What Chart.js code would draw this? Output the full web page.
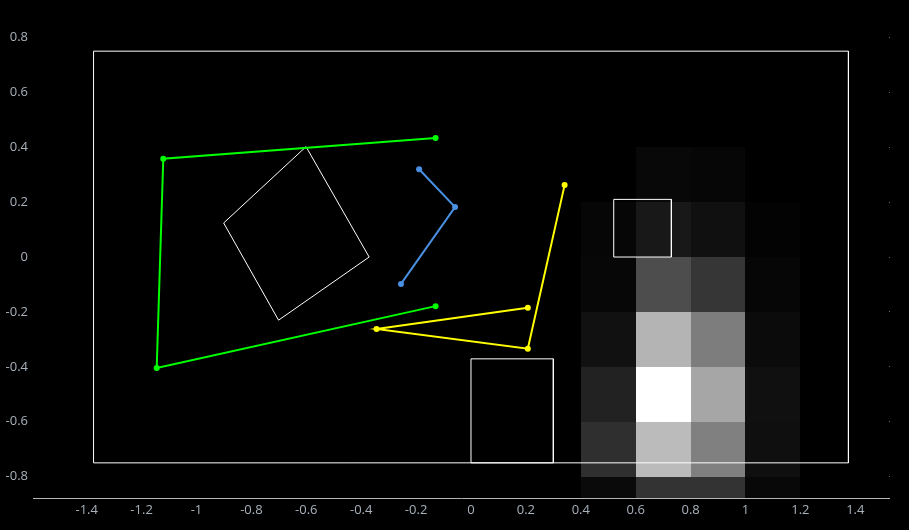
<!DOCTYPE html>
<html>
<head>
<meta charset="utf-8">
<script src="https://cdn.jsdelivr.net/npm/chart.js@4/dist/chart.umd.min.js"></script>
<style>
  html, body { margin: 0; padding: 0; background: #000; }
  #wrap { width: 909px; height: 530px; }
</style>
</head>
<body>
<div id="wrap"><canvas id="c" width="909" height="530"></canvas></div>
<script>
// ---- data ----
const xTicks = [-1.4, -1.2, -1, -0.8, -0.6, -0.4, -0.2, 0, 0.2, 0.4, 0.6, 0.8, 1, 1.2, 1.4];
const yTicks = [-0.8, -0.6, -0.4, -0.2, 0, 0.2, 0.4, 0.6, 0.8];

const greenLine = [
  {x: -0.129, y: 0.434}, {x: -1.121, y: 0.358}, {x: -1.145, y: -0.404}, {x: -0.129, y: -0.179}
];
const blueLine = [
  {x: -0.189, y: 0.320}, {x: -0.058, y: 0.182}, {x: -0.255, y: -0.098}
];
const yellowLine = [
  {x: 0.341, y: 0.262}, {x: 0.207, y: -0.334}, {x: -0.344, y: -0.262}, {x: 0.207, y: -0.185}
];
const tiltedSquare = [
  {x: -0.601, y: 0.402}, {x: -0.371, y: 0.0}, {x: -0.701, y: -0.230}, {x: -0.901, y: 0.124}, {x: -0.601, y: 0.402}
];
const outerRect = [
  {x: -1.375, y: 0.75}, {x: 1.375, y: 0.75}, {x: 1.375, y: -0.75}, {x: -1.375, y: -0.75}, {x: -1.375, y: 0.75}
];
const lowerRect = [
  {x: 0, y: -0.371}, {x: 0.3, y: -0.371}, {x: 0.3, y: -0.75}, {x: 0, y: -0.75}, {x: 0, y: -0.371}
];
const smallSquare = [
  {x: 0.52, y: 0.21}, {x: 0.73, y: 0.21}, {x: 0.73, y: 0.0}, {x: 0.52, y: 0.0}, {x: 0.52, y: 0.21}
];

// heatmap: column edges, row edges (top to bottom), intensities 0..1
const heatX = [0.4, 0.6, 0.8, 1.0, 1.2];
const heatY = [0.4, 0.2, 0, -0.2, -0.4, -0.6, -0.8, -1.0];
const heatValues = [
  [0.000, 0.030, 0.025, 0.000],
  [0.025, 0.095, 0.062, 0.012],
  [0.028, 0.300, 0.212, 0.024],
  [0.066, 0.706, 0.490, 0.044],
  [0.133, 1.000, 0.651, 0.063],
  [0.184, 0.733, 0.502, 0.059],
  [0.040, 0.200, 0.200, 0.031]
];

// ---- plugin: heatmap cells drawn through the chart scales ----
const heatmapPlugin = {
  id: 'heatmap',
  beforeDatasetsDraw(chart) {
    const {ctx, chartArea, scales} = chart;
    const xs = scales.x, ys = scales.y;
    ctx.save();
    ctx.beginPath();
    ctx.rect(chartArea.left, chartArea.top, chartArea.right - chartArea.left, chartArea.bottom - chartArea.top);
    ctx.clip();
    for (let r = 0; r < heatValues.length; r++) {
      for (let c = 0; c < heatValues[r].length; c++) {
        const v = heatValues[r][c];
        if (v <= 0) continue;
        const g = Math.round(v * 255);
        const x0 = xs.getPixelForValue(heatX[c]);
        const x1 = xs.getPixelForValue(heatX[c + 1]);
        const y0 = ys.getPixelForValue(heatY[r]);
        const y1 = ys.getPixelForValue(heatY[r + 1]);
        ctx.fillStyle = `rgb(${g},${g},${g})`;
        ctx.fillRect(Math.round(x0), Math.round(y0), Math.round(x1) - Math.round(x0), Math.round(y1) - Math.round(y0));
      }
    }
    ctx.restore();
  }
};

function lineDs(data, color, width, radius) {
  return {
    data, showLine: true, fill: false,
    borderColor: color, backgroundColor: color,
    borderWidth: width, pointRadius: radius, pointHoverRadius: radius,
    pointBackgroundColor: color, pointBorderWidth: 0,
    tension: 0
  };
}

const labelColor = '#a9b1bc';
const fmt = v => String(Math.round(v * 10) / 10);

new Chart(document.getElementById('c'), {
  type: 'scatter',
  data: {
    datasets: [
      lineDs(smallSquare, '#ffffff', 1, 0),
      lineDs(greenLine, '#00ff00', 2, 3),
      lineDs(blueLine, '#4a90e2', 2, 3),
      lineDs(yellowLine, '#ffff00', 2, 3),
      lineDs(tiltedSquare, '#ffffff', 1, 0),
      lineDs(lowerRect, '#ffffff', 1, 0),
      lineDs(outerRect, '#ffffff', 1, 0)
    ]
  },
  options: {
    responsive: false,
    animation: false,
    layout: { padding: { top: 10, right: 0, left: 0, bottom: 0 } },
    plugins: { legend: { display: false }, tooltip: { enabled: false } },
    scales: {
      x: {
        type: 'linear', position: 'bottom',
        min: -1.5956, max: 1.5228,
        afterBuildTicks: s => { s.ticks = xTicks.map(v => ({value: v})); },
        afterFit: s => { s.height = 32; s.paddingLeft = 0; s.paddingRight = 0; },
        grid: { display: false, drawTicks: false },
        border: { display: true, color: '#b4b4b4', width: 1 },
        ticks: {
          color: labelColor, padding: 4, maxRotation: 0, autoSkip: false,
          font: { family: 'Open Sans', size: 13 },
          callback: v => fmt(v)
        }
      },
      y: {
        type: 'linear', position: 'left',
        min: -0.878, max: 0.9,
        afterBuildTicks: s => { s.ticks = yTicks.map(v => ({value: v})); },
        afterFit: s => { s.width = 33; s.paddingTop = 0; s.paddingBottom = 0; },
        grid: { display: false, drawTicks: false },
        border: { display: false },
        ticks: {
          color: labelColor, padding: 5, autoSkip: false,
          font: { family: 'Open Sans', size: 13 },
          callback: v => fmt(v)
        }
      },
      y2: {
        type: 'linear', position: 'right',
        min: -0.878, max: 0.9,
        afterBuildTicks: s => { s.ticks = yTicks.map(v => ({value: v})); },
        afterFit: s => { s.width = 20; s.paddingTop = 0; s.paddingBottom = 0; },
        grid: { display: true, drawOnChartArea: false, drawTicks: true, tickLength: 1, color: '#666666' },
        border: { display: false },
        ticks: { display: false }
      }
    }
  },
  plugins: [heatmapPlugin]
});
</script>
</body>
</html>
